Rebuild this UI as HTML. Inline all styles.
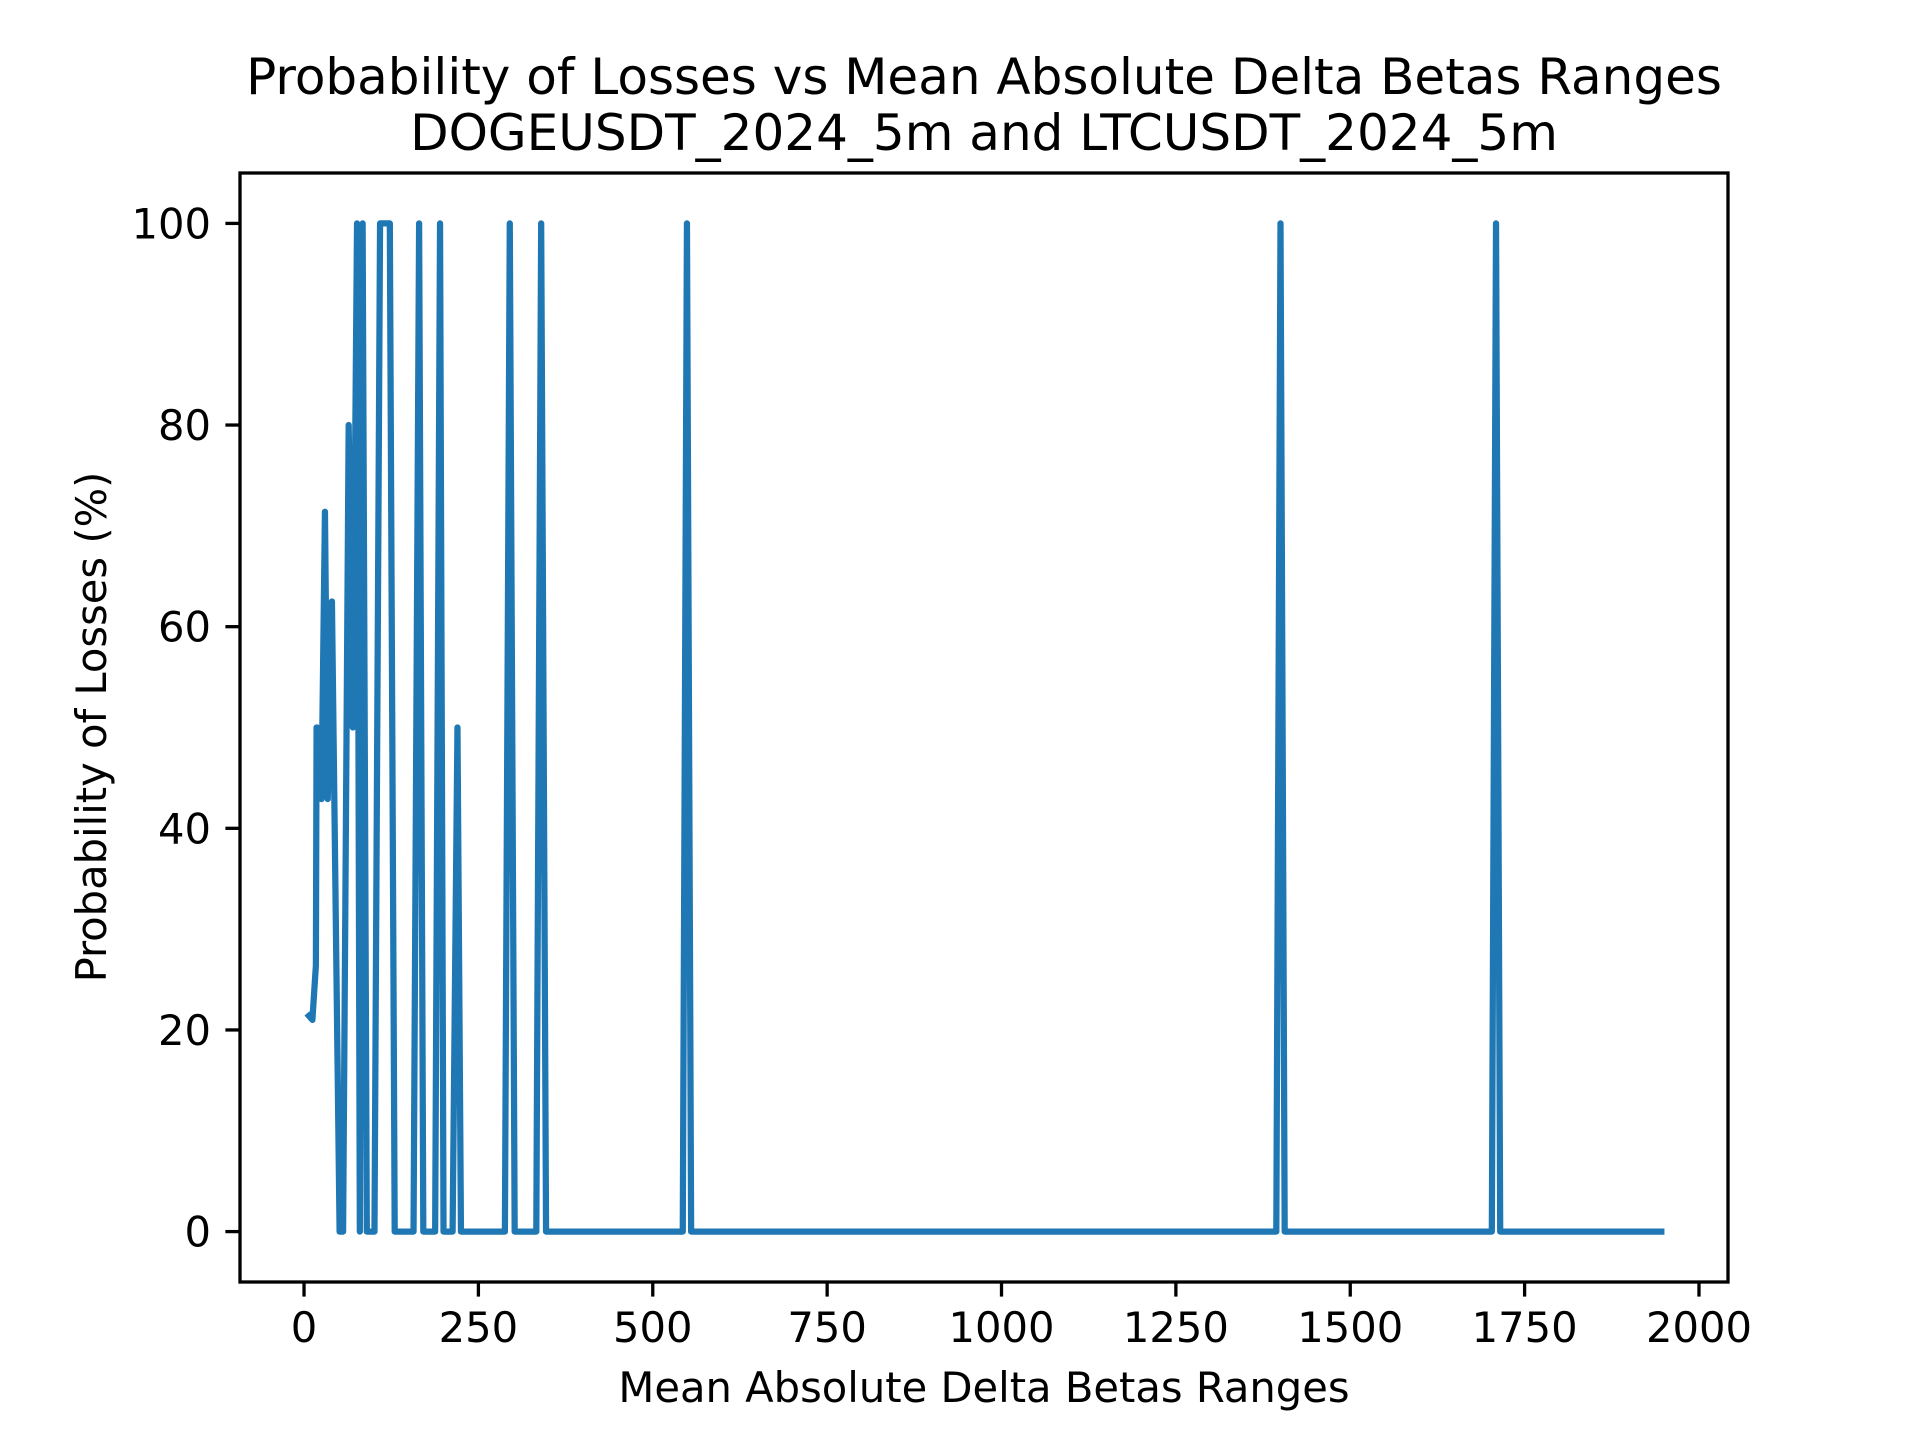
<!DOCTYPE html>
<html><head><meta charset="utf-8"><style>
html,body{margin:0;padding:0;background:#fff;}
svg text{font-family:"DejaVu Sans","Liberation Sans",sans-serif;fill:#000;}
</style></head><body>
<svg id="chart" width="1920" height="1440" viewBox="0 0 1920 1440" xmlns="http://www.w3.org/2000/svg">
<rect x="0" y="0" width="1920" height="1440" fill="#fff"/>
<text x="984" y="94" font-size="50" text-anchor="middle">Probability of Losses vs Mean Absolute Delta Betas Ranges</text>
<text x="984" y="150" font-size="50" text-anchor="middle">DOGEUSDT_2024_5m and LTCUSDT_2024_5m</text>
<g id="plot"></g>
<text x="984" y="1402" font-size="41.67" text-anchor="middle">Mean Absolute Delta Betas Ranges</text>
<text x="0" y="0" font-size="41.67" text-anchor="middle" transform="translate(106,727) rotate(-90)">Probability of Losses (%)</text>
</svg>
<script>
const xValues = [7,12,17,18,19,25,30,34,40,51,56,64,70,76,80,84,90,101,109,123,130,157,165,171,188,195,200,213,220,225,288,295,302,333,340,347,543,549,555,1394,1400,1406,1703,1709,1715,1946];
const yValues = [21.4,21,26.4,50,50,42.9,71.4,42.9,62.5,0,0,80,50,100,0,100,0,0,100,100,0,0,100,0,0,100,0,0,50,0,0,100,0,0,100,0,0,100,0,0,100,0,0,100,0,0];
const xTicks = [0,250,500,750,1000,1250,1500,1750,2000];
const yTicks = [0,20,40,60,80,100];

const L=240,R=1728,T=173,B=1282;
const xMin=-91.8,xMax=2041.6,yMin=-5,yMax=105;
function sx(v){return L+(v-xMin)/(xMax-xMin)*(R-L);}
function sy(v){return B-(v-yMin)/(yMax-yMin)*(B-T);}
const NS='http://www.w3.org/2000/svg';
const g=document.getElementById('plot');
function mk(tag,attrs){const e=document.createElementNS(NS,tag);for(const k in attrs)e.setAttribute(k,attrs[k]);g.appendChild(e);return e;}

let d='';
for(let i=0;i<xValues.length;i++){d+=(i?'L':'M')+sx(xValues[i]).toFixed(2)+','+sy(yValues[i]).toFixed(2);}
const line=mk('path',{d:d,fill:'none',stroke:'#1f77b4','stroke-width':6.25,'stroke-linejoin':'round','stroke-linecap':'square'});



xTicks.forEach(t=>{
  const x=sx(t);
  const tk=mk('line',{x1:x,x2:x,y1:B,y2:B+14.6,stroke:'#000','stroke-width':3.3});
  
  
  const tx=mk('text',{x:x,y:B+60,'font-size':41.67,'text-anchor':'middle'});
  tx.textContent=t;
  
  
});
yTicks.forEach(t=>{
  const y=sy(t);
  const tk=mk('line',{x1:L-14.6,x2:L,y1:y,y2:y,stroke:'#000','stroke-width':3.3});
  
  
  const tx=mk('text',{x:L-29,y:y+15,'font-size':41.67,'text-anchor':'end'});
  tx.textContent=t;
  
  
});
const frame=mk('rect',{x:L,y:T,width:R-L,height:B-T,fill:'none',stroke:'#000','stroke-width':3.3});


</script>
</body></html>
